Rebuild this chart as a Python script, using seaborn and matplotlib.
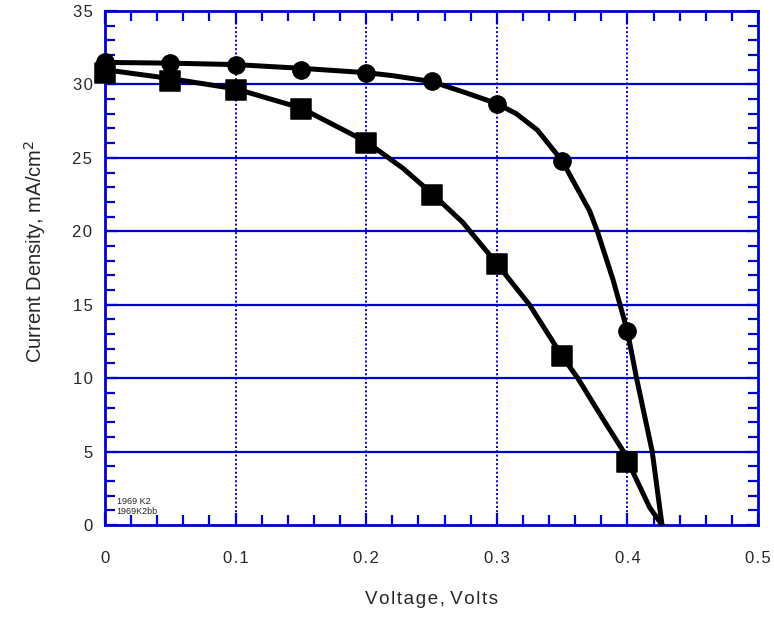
import matplotlib
matplotlib.use("Agg")
import matplotlib.pyplot as plt
import seaborn as sns
import pandas as pd
from matplotlib.ticker import MultipleLocator

# ---- data ----
marker_v = [0.0, 0.05, 0.10, 0.15, 0.20, 0.25, 0.30, 0.35, 0.40]
k2_j = [31.5, 31.45, 31.35, 31.0, 30.8, 30.2, 28.7, 24.8, 13.2]
k2bb_j = [30.8, 30.2, 29.6, 28.3, 26.0, 22.5, 17.8, 11.5, 4.3]

k2_curve_v = [0.0, 0.05, 0.10, 0.15, 0.20, 0.22, 0.25, 0.274, 0.30, 0.315, 0.331,
              0.35, 0.358, 0.371, 0.377, 0.389, 0.40, 0.407, 0.419, 0.4265]
k2_curve_j = [31.5, 31.45, 31.35, 31.1, 30.8, 30.6, 30.2, 29.5, 28.7, 28.0, 26.9,
              24.8, 23.5, 21.4, 20.0, 16.7, 13.2, 10.0, 5.0, 0.0]

k2bb_curve_v = [0.0, 0.05, 0.10, 0.15, 0.20, 0.228, 0.25, 0.274, 0.30, 0.325,
                0.35, 0.362, 0.38, 0.397, 0.40, 0.417, 0.4265]
k2bb_curve_j = [31.0, 30.4, 29.7, 28.4, 26.1, 24.3, 22.6, 20.6, 17.8, 15.0,
                11.5, 10.0, 7.4, 5.0, 4.4, 1.2, 0.0]

x_ticks = [0, 0.1, 0.2, 0.3, 0.4, 0.5]
x_tick_labels = ["0", "0.1", "0.2", "0.3", "0.4", "0.5"]
y_ticks = [0, 5, 10, 15, 20, 25, 30, 35]
legend_labels = ["1969 K2", "1969K2bb"]
x_title = "Voltage, Volts"
y_title = "Current Density, mA/cm$^2$"

BLUE = "#0000CC"
HS = "\u200a"  # hair space, for the loose letter spacing of the original


def spaced(s):
    return HS.join(s)


sns.set_style("ticks")
plt.rcParams["font.family"] = ["Liberation Sans", "DejaVu Sans"]

fig = plt.figure(figsize=(7.74, 6.17), dpi=100)
ax = fig.add_axes([105 / 774, 92 / 617, 653 / 774, 514 / 617])

# grid
for yv in y_ticks[1:-1]:
    ax.axhline(yv, color=BLUE, lw=1.6, zorder=1)
for xv in x_ticks[1:-1]:
    ax.axvline(xv, color=BLUE, lw=1.4, ls=(0, (1, 1.2)), zorder=1)

curve1 = pd.DataFrame({"v": k2_curve_v, "j": k2_curve_j})
curve2 = pd.DataFrame({"v": k2bb_curve_v, "j": k2bb_curve_j})
sns.lineplot(data=curve1, x="v", y="j", ax=ax, color="black", lw=3.6,
             sort=False, estimator=None, zorder=3)
sns.lineplot(data=curve2, x="v", y="j", ax=ax, color="black", lw=3.6,
             sort=False, estimator=None, zorder=3)

pts1 = pd.DataFrame({"v": marker_v, "j": k2_j})
pts2 = pd.DataFrame({"v": marker_v, "j": k2bb_j})
sns.scatterplot(data=pts1, x="v", y="j", ax=ax, marker="o", s=155,
                color="black", edgecolor="black", zorder=4, clip_on=False)
sns.scatterplot(data=pts2, x="v", y="j", ax=ax, marker="s", s=190,
                color="black", edgecolor="black", zorder=5, clip_on=False)

ax.set_xlim(0, 0.5)
ax.set_ylim(0, 35)
ax.set_xticks(x_ticks)
ax.set_xticklabels([spaced(t) for t in x_tick_labels])
ax.set_yticks(y_ticks)
ax.set_yticklabels([spaced(str(t)) for t in y_ticks])
ax.xaxis.set_minor_locator(MultipleLocator(0.02))
ax.yaxis.set_minor_locator(MultipleLocator(1))

for sp in ax.spines.values():
    sp.set_visible(True)
    sp.set_color(BLUE)
    sp.set_linewidth(2.0)

ax.tick_params(which="both", direction="in", top=True, right=True,
               color=BLUE, width=1.6)
ax.tick_params(which="major", length=9)
ax.tick_params(which="minor", length=7)
ax.tick_params(axis="x", which="major", pad=19, labelsize=12)
ax.tick_params(axis="y", which="major", pad=9, labelsize=12)

ax.set_xlabel(spaced(x_title).replace(HS + " " + HS, " "), fontsize=13.5)
ax.xaxis.set_label_coords(0.5, -0.128)
ax.set_ylabel(y_title, fontsize=14.5)
ax.yaxis.set_label_coords(-0.088, 0.533)

ax.text(0.018, 0.046, legend_labels[0], transform=ax.transAxes,
        fontsize=6.5, va="center", ha="left")
ax.text(0.018, 0.026, legend_labels[1], transform=ax.transAxes,
        fontsize=6.5, va="center", ha="left")

fig.savefig("out.png", dpi=100)
